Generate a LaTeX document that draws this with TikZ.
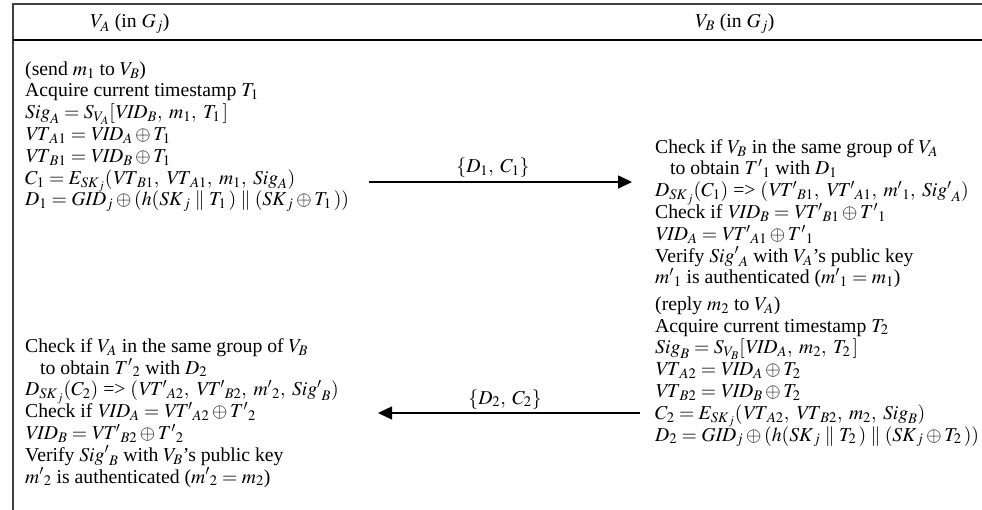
\documentclass[tikz,border=0pt]{standalone}
\usepackage{mathptmx}
\usepackage{fontspec}
\setmainfont{Liberation Serif}
\usetikzlibrary{arrows.meta}
\newcommand\fs{\fontsize{19.7}{21.8}\selectfont\lineskiplimit=-30pt\relax}
\newcommand\prm[2]{{#1'}_{#2}}
\newcommand\topst{\rule{0pt}{16pt}}
\begin{document}
\begin{tikzpicture}[x=1pt,y=-1pt,
  blk/.style={anchor=north west, inner sep=0pt, align=left, font=\fs},
  hdr/.style={anchor=base, inner sep=0pt, font=\fs},
  frame/.style={line width=1.2pt},
  msg/.style={line width=1.5pt, -{Triangle[length=14pt,width=13pt]}},
  lbl/.style={anchor=base, inner sep=0pt, font=\fs}]
\useasboundingbox (0,0) rectangle (982,510);
% frame
\draw[frame, black!75] (13,510) -- (13,4) -- (982,4);
\draw[frame] (13,40) -- (982,40);
% headers
\node[hdr] (hA) at (130,28) {$V_A$ (in $G_j$)};
\node[hdr] (hB) at (735,28) {$V_B$ (in $G_j$)};
% left top block (first baseline 75)
\node[blk] (L) at (25,59) {\topst(send $m_1$ to $V_B$)\\
Acquire current timestamp $T_1$\\
$\mathit{Sig}_A = S_{V_A}[\mathit{VID}_B,\; m_1,\; T_1\,]$\\
$\mathit{VT}_{A1} = \mathit{VID}_A \oplus T_1$\\
$\mathit{VT}_{B1} = \mathit{VID}_B \oplus T_1$\\
$C_1 = E_{\mathit{SK}_j}(\mathit{VT}_{B1},\; \mathit{VT}_{A1},\; m_1,\; \mathit{Sig}_A)$\\
$D_1 = \mathit{GID}_j \oplus (h(\mathit{SK}_j \parallel T_1\,) \parallel (\mathit{SK}_j \oplus T_1\,))$};
% right top block (first baseline 153)
\node[blk] (R) at (655,137) {\topst Check if $V_B$ in the same group of $V_A$\\
\hspace*{15pt}to obtain $\prm{T}{1}$ with $D_1$\\
$D_{\mathit{SK}_j}(C_1)$ => $(\prm{\mathit{VT}}{B1},\; \prm{\mathit{VT}}{A1},\; \prm{m}{1},\; \prm{\mathit{Sig}}{A})$\\
Check if $\mathit{VID}_B = \prm{\mathit{VT}}{B1} \oplus \prm{T}{1}$\\
$\mathit{VID}_A = \prm{\mathit{VT}}{A1} \oplus \prm{T}{1}$\\
Verify $\prm{\mathit{Sig}}{A}$ with $V_A$'s public key\\
$\prm{m}{1}$ is authenticated ($\prm{m}{1} = m_1$)};
% right reply block (first baseline 310)
\node[blk] (P) at (655,294) {\topst(reply $m_2$ to $V_A$)\\
Acquire current timestamp $T_2$\\
$\mathit{Sig}_B = S_{V_B}[\mathit{VID}_A,\; m_2,\; T_2\,]$\\
$\mathit{VT}_{A2} = \mathit{VID}_A \oplus T_2$\\
$\mathit{VT}_{B2} = \mathit{VID}_B \oplus T_2$\\
$C_2 = E_{\mathit{SK}_j}(\mathit{VT}_{A2},\; \mathit{VT}_{B2},\; m_2,\; \mathit{Sig}_B)$\\
$D_2 = \mathit{GID}_j \oplus (h(\mathit{SK}_j \parallel T_2\,) \parallel (\mathit{SK}_j \oplus T_2\,))$};
% left bottom block (first baseline 352)
\node[blk] (Q) at (25,336) {\topst Check if $V_A$ in the same group of $V_B$\\
\hspace*{15pt}to obtain $\prm{T}{2}$ with $D_2$\\
$D_{\mathit{SK}_j}(C_2)$ => $(\prm{\mathit{VT}}{A2},\; \prm{\mathit{VT}}{B2},\; \prm{m}{2},\; \prm{\mathit{Sig}}{B})$\\
Check if $\mathit{VID}_A = \prm{\mathit{VT}}{A2} \oplus \prm{T}{2}$\\
$\mathit{VID}_B = \prm{\mathit{VT}}{B2} \oplus \prm{T}{2}$\\
Verify $\prm{\mathit{Sig}}{B}$ with $V_B$'s public key\\
$\prm{m}{2}$ is authenticated ($\prm{m}{2} = m_2$)};
% messages
\coordinate (a1s) at (369,182);
\coordinate (a1e) at (632,182);
\draw[msg] (a1s) -- (a1e);
\node[lbl] (m1) at (493,173) {$\{D_1,\; C_1\}$};
\coordinate (a2s) at (640,413);
\coordinate (a2e) at (378,413);
\draw[msg] (a2s) -- (a2e);
\node[lbl] (m2) at (505,404) {$\{D_2,\; C_2\}$};
\end{tikzpicture}
\end{document}
